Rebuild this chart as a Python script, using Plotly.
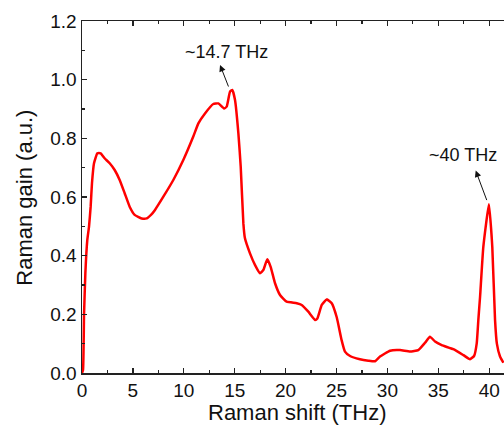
import plotly.graph_objects as go

shift_thz = [0, 0.1, 0.2, 0.33, 0.52, 0.69, 0.85, 0.98, 1.18, 1.51, 1.83, 2.22, 2.72, 3.21,
             3.7, 4.19, 4.68, 5.17, 5.86, 6.35, 6.8, 7.17, 7.99, 8.97, 9.95, 10.93, 11.43,
             12.08, 12.9, 13.39, 13.95, 14.21, 14.54, 14.77, 15.03, 15.36, 15.59, 15.85, 16.0,
             16.5, 17.0, 17.49, 17.81, 18.2, 18.53, 18.96, 19.45, 20.1, 21.09, 21.58, 22.23,
             22.89, 23.12, 23.55, 24.04, 24.53, 25.02, 25.5, 25.83, 26.33, 27.3, 28.13, 28.78,
             29.27, 30.26, 31.24, 32.22, 33.03, 33.69, 34.18, 34.68, 35.33, 36.47, 37.46, 38.11,
             38.51, 38.77, 38.93, 39.1, 39.42, 39.97, 40.3, 40.57, 40.75, 41.06, 41.39]
raman_gain = [0, 0.01, 0.2, 0.34, 0.453, 0.499, 0.567, 0.647, 0.715, 0.749, 0.749, 0.732,
              0.715, 0.692, 0.658, 0.613, 0.567, 0.539, 0.527, 0.527, 0.54, 0.556, 0.601,
              0.658, 0.726, 0.806, 0.851, 0.885, 0.917, 0.919, 0.902, 0.908, 0.959, 0.965,
              0.931, 0.817, 0.703, 0.51, 0.46, 0.408, 0.368, 0.34, 0.351, 0.388, 0.362, 0.306,
              0.266, 0.243, 0.238, 0.232, 0.209, 0.181, 0.186, 0.232, 0.251, 0.238, 0.19,
              0.112, 0.073, 0.058, 0.047, 0.042, 0.04, 0.056, 0.076, 0.078, 0.073, 0.078,
              0.103, 0.124, 0.107, 0.095, 0.081, 0.061, 0.047, 0.058, 0.101, 0.181, 0.26,
              0.43, 0.575, 0.43, 0.181, 0.1, 0.056, 0.035]

x_ticks = [0, 5, 10, 15, 20, 25, 30, 35, 40]
y_ticks = [0.0, 0.2, 0.4, 0.6, 0.8, 1.0, 1.2]
y_tick_labels = ["0.0", "0.2", "0.4", "0.6", "0.8", "1.0", "1.2"]

peak_labels = ["~14.7 THz", "~40 THz"]
label_x = [14.15, 37.4]
label_y = [1.0955, 0.743]
arrow_tip_x = [13.56, 38.67]
arrow_tip_y = [1.05, 0.69]
arrow_tail = [(9, 23), (11.6, 31)]

FONT = "Liberation Sans, Arial, sans-serif"
AX = "#222222"

fig = go.Figure()
fig.add_trace(go.Scatter(x=shift_thz, y=raman_gain, mode="lines",
                         line=dict(color="#ff0000", width=2.5, shape="spline", smoothing=0.4),
                         showlegend=False, hoverinfo="skip"))
fig.add_trace(go.Scatter(x=[0], y=[0], xaxis="x2", mode="markers",
                         marker=dict(opacity=0), showlegend=False, hoverinfo="skip"))

xr = [0, 41.45]
minor_x = dict(ticks="inside", ticklen=3, dtick=2.5, tick0=0, tickcolor=AX, showgrid=False)
fig.update_layout(
    width=504, height=426,
    margin=dict(l=82, r=0, t=21, b=53, autoexpand=False),
    paper_bgcolor="white", plot_bgcolor="white",
    font=dict(family=FONT, color="#111111"),
    hovermode=False,
    xaxis=dict(range=xr, tickvals=x_ticks, ticks="inside", ticklen=5, tickwidth=1.2,
               tickcolor=AX, showline=True, linecolor=AX, linewidth=1.5, showgrid=False,
               zeroline=False, tickfont=dict(size=19), automargin=False, minor=minor_x),
    xaxis2=dict(range=xr, overlaying="x", side="top", tickvals=x_ticks, ticks="inside",
                ticklen=5, tickwidth=1.2, tickcolor=AX, showline=True, linecolor=AX, linewidth=1.5,
                showticklabels=False, showgrid=False, zeroline=False, automargin=False,
                minor=minor_x),
    yaxis=dict(range=[0, 1.2], tickvals=y_ticks, ticktext=y_tick_labels, ticks="inside",
               ticklen=5, tickwidth=1.2, tickcolor=AX, showline=True, linecolor=AX, linewidth=1.5,
               showgrid=False, zeroline=False, tickfont=dict(size=19), automargin=False,
               minor=dict(ticks="inside", ticklen=3, dtick=0.1, tick0=0, tickcolor=AX, showgrid=False)),
)

# axis titles
fig.add_annotation(text="Raman shift (THz)", xref="paper", yref="paper", x=0.509, y=-0.111,
                   xanchor="center", yanchor="middle", showarrow=False, font=dict(size=22))
fig.add_annotation(text="Raman gain (a.u.)", xref="paper", yref="paper", x=-0.137, y=0.4986,
                   xanchor="center", yanchor="middle", textangle=-90, showarrow=False,
                   font=dict(size=22))

for tx, ty, (ax, ay) in zip(arrow_tip_x, arrow_tip_y, arrow_tail):
    fig.add_annotation(x=tx, y=ty, ax=ax, ay=ay, xref="x", yref="y", text="",
                       showarrow=True, arrowhead=2, arrowsize=1.3, arrowwidth=1,
                       arrowcolor="#111111", standoff=0, startstandoff=0)

for lbl, lx, ly in zip(peak_labels, label_x, label_y):
    fig.add_annotation(x=lx, y=ly, xref="x", yref="y", text=lbl, showarrow=False,
                       xanchor="center", yanchor="middle", font=dict(size=18))

fig.write_html("out.html", config={"displayModeBar": False, "staticPlot": True},
               post_script="document.body.style.margin='0';document.body.style.overflow='hidden';")
